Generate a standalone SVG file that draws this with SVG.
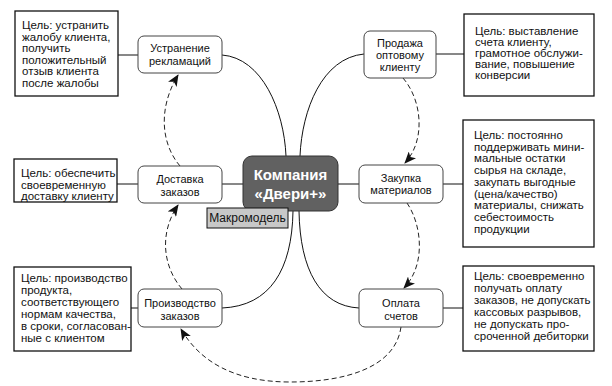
<svg xmlns="http://www.w3.org/2000/svg" width="612" height="386" viewBox="0 0 612 386">
<defs>
<style>
.t{font-family:"Liberation Sans",Arial,sans-serif;font-size:11px;fill:#111}
.gt{font-family:"Liberation Sans",Arial,sans-serif;font-size:11.5px;fill:#111}
.n{fill:#fff;stroke:#444;stroke-width:1}
.g{fill:#fff;stroke:#111;stroke-width:1.3}
.c{fill:none;stroke:#111;stroke-width:1}
.d{fill:none;stroke:#222;stroke-width:1;stroke-dasharray:5 3;marker-end:url(#ah)}
</style>
<marker id="ah" viewBox="0 0 12 10" refX="11" refY="5" markerWidth="12" markerHeight="10" markerUnits="userSpaceOnUse" orient="auto">
<path d="M0,0 L12,5 L0,10 L3,5 z" fill="#111"/>
</marker>
</defs>
<rect width="612" height="386" fill="#fff"/>
<g id="connectors">
<path class="c" d="M222,55 C262,58 284,110 286,156"/>
<path class="c" d="M364,54 C322,58 302,110 300,156"/>
<path class="c" d="M293,211 C292,270 270,306 222,308"/>
<path class="c" d="M299,211 C300,270 320,306 359,308"/>
<line class="c" x1="222" y1="184" x2="243" y2="184"/>
<line class="c" x1="338" y1="184" x2="359" y2="184"/>
<line class="c" x1="117" y1="55" x2="138" y2="55"/>
<line class="c" x1="436" y1="54" x2="464" y2="54"/>
<line class="c" x1="117" y1="184" x2="138" y2="184"/>
<line class="c" x1="443" y1="184" x2="463" y2="184"/>
<line class="c" x1="131" y1="308" x2="138" y2="308"/>
<line class="c" x1="443" y1="308" x2="463" y2="308"/>
<path class="d" d="M403,78 C422,100 426,140 405,163"/>
<path class="d" d="M407,203 C422,225 426,265 404,288"/>
<path class="d" d="M401,327 C395,370 340,382 290,382 C235,382 200,362 181,329"/>
<path class="d" d="M182,289 C164,268 158,235 178,205"/>
<path class="d" d="M180,166 C162,145 157,110 178,75"/>
</g>
<g id="center">
<rect x="243" y="156" width="95" height="55" rx="9" fill="#616161" stroke="#333" stroke-width="1"/>
<text x="290.5" y="180" text-anchor="middle" style="font-family:'Liberation Sans',Arial,sans-serif;font-size:15px;font-weight:bold;fill:#fff">Компания</text>
<text x="290.5" y="199" text-anchor="middle" style="font-family:'Liberation Sans',Arial,sans-serif;font-size:15px;font-weight:bold;fill:#fff">«Двери+»</text>
</g>
<g id="macro">
<rect x="207" y="208" width="81" height="20" fill="#c8c8c8" stroke="#111" stroke-width="1"/>
<text class="t" x="247.5" y="222" text-anchor="middle" style="font-size:12px">Макромодель</text>
</g>
<g id="n-ustr">
<rect class="n" x="138" y="36" width="84" height="37" rx="6"/>
<text class="t" x="180" y="52" text-anchor="middle">Устранение</text>
<text class="t" x="180" y="65" text-anchor="middle">рекламаций</text>
</g>
<g id="n-prod">
<rect class="n" x="364" y="31" width="72" height="47" rx="6"/>
<text class="t" x="400" y="47" text-anchor="middle">Продажа</text>
<text class="t" x="400" y="59" text-anchor="middle">оптовому</text>
<text class="t" x="400" y="71" text-anchor="middle">клиенту</text>
</g>
<g id="n-dost">
<rect class="n" x="138" y="166" width="84" height="37" rx="6"/>
<text class="t" x="180" y="183" text-anchor="middle">Доставка</text>
<text class="t" x="180" y="196" text-anchor="middle">заказов</text>
</g>
<g id="n-zak">
<rect class="n" x="359" y="165" width="84" height="38" rx="6"/>
<text class="t" x="401" y="182" text-anchor="middle">Закупка</text>
<text class="t" x="401" y="194" text-anchor="middle">материалов</text>
</g>
<g id="n-proizv">
<rect class="n" x="138" y="289" width="84" height="38" rx="6"/>
<text class="t" x="180" y="307" text-anchor="middle">Производство</text>
<text class="t" x="180" y="320" text-anchor="middle">заказов</text>
</g>
<g id="n-opl">
<rect class="n" x="359" y="289" width="84" height="38" rx="6"/>
<text class="t" x="401" y="307" text-anchor="middle">Оплата</text>
<text class="t" x="401" y="320" text-anchor="middle">счетов</text>
</g>
<g id="goal-ustr">
<rect class="g" x="15" y="11" width="103" height="85"/>
<text class="gt" x="22" y="29">Цель: устранить</text>
<text class="gt" x="22" y="40.6">жалобу клиента,</text>
<text class="gt" x="22" y="52.2">получить</text>
<text class="gt" x="22" y="63.8">положительный</text>
<text class="gt" x="22" y="75.4">отзыв клиента</text>
<text class="gt" x="22" y="87">после жалобы</text>
</g>
<g id="goal-prod">
<rect class="g" x="464" y="14" width="130" height="82"/>
<text class="gt" x="475" y="35">Цель: выставление</text>
<text class="gt" x="475" y="46">счета клиенту,</text>
<text class="gt" x="475" y="57">грамотное обслужи-</text>
<text class="gt" x="475" y="68">вание, повышение</text>
<text class="gt" x="475" y="79">конверсии</text>
</g>
<g id="goal-dost">
<rect class="g" x="14" y="159" width="103" height="43"/>
<text class="gt" x="21" y="177">Цель: обеспечить</text>
<text class="gt" x="21" y="188.5">своевременную</text>
<text class="gt" x="21" y="200">доставку клиенту</text>
</g>
<g id="goal-zak">
<rect class="g" x="463" y="120" width="131" height="127"/>
<text class="gt" x="474" y="139">Цель: постоянно</text>
<text class="gt" x="474" y="150.7">поддерживать мини-</text>
<text class="gt" x="474" y="162.4">мальные остатки</text>
<text class="gt" x="474" y="174.1">сырья на складе,</text>
<text class="gt" x="474" y="185.8">закупать выгодные</text>
<text class="gt" x="474" y="197.5">(цена/качество)</text>
<text class="gt" x="474" y="209.2">материалы, снижать</text>
<text class="gt" x="474" y="220.9">себестоимость</text>
<text class="gt" x="474" y="232.6">продукции</text>
</g>
<g id="goal-proizv">
<rect class="g" x="14" y="267" width="117" height="84"/>
<text class="gt" x="21" y="282">Цель: производство</text>
<text class="gt" x="21" y="294">продукта,</text>
<text class="gt" x="21" y="306">соответствующего</text>
<text class="gt" x="21" y="318">нормам качества,</text>
<text class="gt" x="21" y="330">в сроки, согласован-</text>
<text class="gt" x="21" y="342">ные с клиентом</text>
</g>
<g id="goal-opl">
<rect class="g" x="463" y="266" width="131" height="85"/>
<text class="gt" x="474" y="280">Цель: своевременно</text>
<text class="gt" x="474" y="292">получать оплату</text>
<text class="gt" x="474" y="304">заказов, не допускать</text>
<text class="gt" x="474" y="316">кассовых разрывов,</text>
<text class="gt" x="474" y="328">не допускать про-</text>
<text class="gt" x="474" y="340">сроченной дебиторки</text>
</g>
</svg>
